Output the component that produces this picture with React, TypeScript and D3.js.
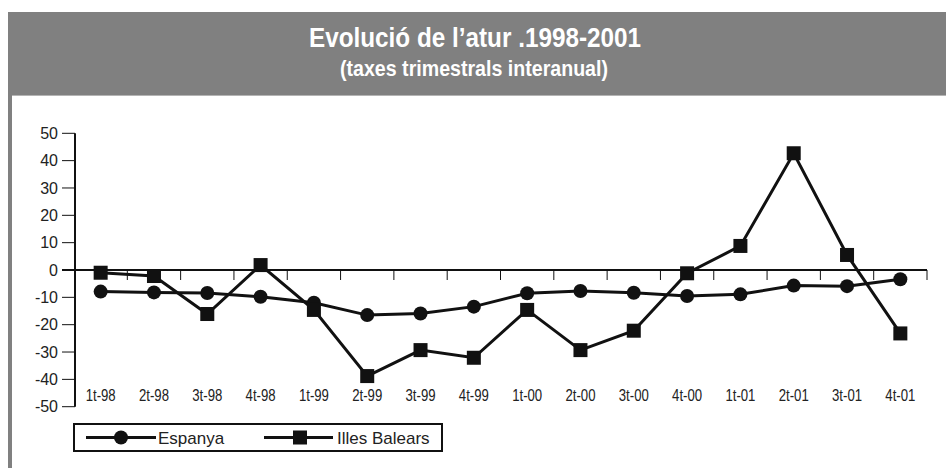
import React from 'react';
import * as d3 from 'd3';

const quarters = ['1t-98', '2t-98', '3t-98', '4t-98', '1t-99', '2t-99', '3t-99', '4t-99',
    '1t-00', '2t-00', '3t-00', '4t-00', '1t-01', '2t-01', '3t-01', '4t-01'];
const espanya = [-7.9, -8.2, -8.4, -9.8, -12, -16.5, -15.9, -13.4, -8.5, -7.7, -8.3, -9.5, -8.9, -5.7, -5.9, -3.4];
const balears = [-1, -2.2, -16.1, 1.8, -14.6, -38.8, -29.3, -32.1, -14.6, -29.3, -22.2, -1.2, 8.8, 42.7, 5.5, -23.2];
const yTicks = [50, 40, 30, 20, 10, 0, -10, -20, -30, -40, -50];

const W = 946, H = 468;
const sans = '"Liberation Sans", Arial, sans-serif';

export default function App() {
    let x = d3.scaleBand<string>()
        .domain(quarters)
        .range([74, 927]);

    let y = d3.scaleLinear()
        .domain([-50, 50])
        .range([406.7, 133.3]);

    let cx = (i: number) => x(quarters[i])! + x.bandwidth() / 2;

    let line = d3.line<number>()
        .x((d, i) => cx(i))
        .y(d => y(d));

    return (
        <svg width={W} height={H} style={{ position: 'absolute', left: 0, top: 0, background: '#fff' }}>
            {/* header + frame */}
            <rect x={8} y={12} width={W - 8} height={83} fill="#808080" />
            <rect x={8} y={95} width={4} height={H - 95} fill="#808080" />
            <line x1={12} x2={W} y1={95.5} y2={95.5} stroke="#b4b4b4" strokeWidth={1} />
            <text x={475} y={47} textAnchor="middle" fill="#fff" fontFamily={sans} fontWeight="bold" fontSize={28}
                textLength={332} lengthAdjust="spacingAndGlyphs">
                Evolució de l’atur .1998-2001
            </text>
            <text x={474} y={76} textAnchor="middle" fill="#fff" fontFamily={sans} fontWeight="bold" fontSize={22}
                textLength={268} lengthAdjust="spacingAndGlyphs">
                (taxes trimestrals interanual)
            </text>

            {/* y axis */}
            <line x1={75} x2={75} y1={y(50)} y2={y(-50)} stroke="#111" strokeWidth={2} />
            {yTicks.map(t => (
                <g key={t}>
                    <line x1={62} x2={75} y1={y(t)} y2={y(t)} stroke="#111" strokeWidth={1} />
                    <text x={58} y={y(t)} dy="0.36em" textAnchor="end" fontFamily={sans} fontSize={16} fill="#222">{t}</text>
                </g>
            ))}

            {/* zero line with ticks */}
            <line x1={62} x2={927} y1={y(0)} y2={y(0)} stroke="#111" strokeWidth={2} />
            {quarters.map(q => (
                <line key={q} x1={x(q)! + x.bandwidth()} x2={x(q)! + x.bandwidth()} y1={y(0)} y2={y(0) + 10}
                    stroke="#111" strokeWidth={1} />
            ))}
            {quarters.map(q => (
                <text key={q} x={x(q)! + x.bandwidth() / 2} y={401} textAnchor="middle"
                    fontFamily={sans} fontSize={16} fill="#222"
                    textLength={30} lengthAdjust="spacingAndGlyphs">{q}</text>
            ))}

            {/* series */}
            <path d={line(espanya)!} fill="none" stroke="#111" strokeWidth={3} />
            <path d={line(balears)!} fill="none" stroke="#111" strokeWidth={3} />
            {espanya.map((v, i) => (
                <circle key={i} cx={cx(i)} cy={y(v)} r={7} fill="#111" />
            ))}
            {balears.map((v, i) => (
                <rect key={i} x={cx(i) - 7} y={y(v) - 7} width={14} height={14} fill="#111" />
            ))}

            {/* legend */}
            <rect x={74} y={424} width={368} height={27} fill="#fff" stroke="#111" strokeWidth={2} />
            <line x1={86} x2={156} y1={437.5} y2={437.5} stroke="#111" strokeWidth={3} />
            <circle cx={121} cy={437.5} r={7} fill="#111" />
            <text x={158} y={443.5} fontFamily={sans} fontSize={17} fill="#222">Espanya</text>
            <line x1={264} x2={333} y1={437.5} y2={437.5} stroke="#111" strokeWidth={3} />
            <rect x={293} y={430.5} width={14} height={14} fill="#111" />
            <text x={337} y={443.5} fontFamily={sans} fontSize={17} fill="#222">Illes Balears</text>
        </svg>
    );
}
